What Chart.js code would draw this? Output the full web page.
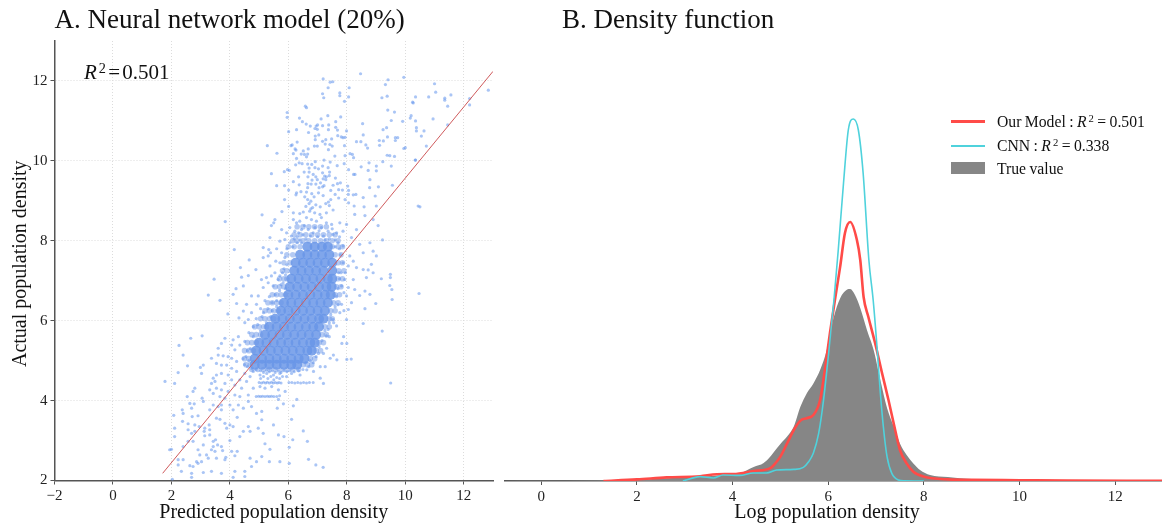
<!DOCTYPE html>
<html><head><meta charset="utf-8">
<script src="https://cdn.jsdelivr.net/npm/chart.js@4"></script>
<style>
html,body{margin:0;padding:0;background:#fff;width:1162px;height:526px;overflow:hidden;font-family:"Liberation Serif",serif;color:#111}
canvas{position:absolute;top:0}
#r2a{position:absolute;left:84px;top:59px;font-size:21px;line-height:26px;white-space:nowrap;word-spacing:-3px}
sup{font-size:.68em;line-height:0;position:relative;vertical-align:baseline;margin-left:2px;top:-.45em}
#legend{position:absolute;left:951px;top:110px;font-size:15.7px;line-height:23.5px;word-spacing:-.5px}
.row{position:relative;height:23.5px;padding-left:46px;white-space:nowrap}
.sw{position:absolute;left:0}
</style></head><body>
<canvas id="a" width="500" height="526" style="left:0"></canvas>
<canvas id="b" width="658" height="526" style="left:504px"></canvas>
<div id="r2a"><i>R</i><sup>2</sup> = 0.501</div>
<div id="legend">
<div class="row"><span class="sw" style="top:10px;width:34px;height:3px;background:#ff4b48"></span>Our Model : <i>R</i><sup>2</sup> = 0.501</div>
<div class="row"><span class="sw" style="top:11px;width:34px;height:2px;background:#4fd2dc"></span>CNN : <i>R</i><sup>2</sup> = 0.338</div>
<div class="row"><span class="sw" style="top:5px;width:34px;height:12px;background:#868686"></span>True value</div>
</div>
<script>
const panelATitle="A. Neural network model (20%)";
const panelBTitle="B. Density function";
const fitLine=[[1.7,2.18],[13,12.24]];
const corePoints=[[6.65,7.85],[6.9,7.85],[7.15,7.85],[7.35,7.85],[6.4,7.65],[6.65,7.65],[6.9,7.65],[7.15,7.65],[7.4,7.65],[6.25,7.45],[6.5,7.45],[6.75,7.45],[7,7.45],[7.25,7.45],[7.5,7.45],[6.2,7.25],[6.45,7.25],[6.7,7.25],[6.95,7.25],[7.2,7.25],[7.5,7.25],[6.1,7.05],[6.35,7.05],[6.6,7.05],[6.85,7.05],[7.1,7.05],[7.35,7.05],[7.5,7.05],[6.05,6.85],[6.3,6.85],[6.55,6.85],[6.8,6.85],[7.05,6.85],[7.3,6.85],[7.48,6.85],[6,6.65],[6.25,6.65],[6.5,6.65],[6.75,6.65],[7,6.65],[7.25,6.65],[7.45,6.65],[5.85,6.45],[6.1,6.45],[6.35,6.45],[6.6,6.45],[6.85,6.45],[7.1,6.45],[7.35,6.45],[5.75,6.25],[6,6.25],[6.25,6.25],[6.5,6.25],[6.75,6.25],[7,6.25],[7.25,6.25],[5.55,6.05],[5.8,6.05],[6.05,6.05],[6.3,6.05],[6.55,6.05],[6.8,6.05],[7.05,6.05],[7.2,6.05],[5.35,5.85],[5.6,5.85],[5.85,5.85],[6.1,5.85],[6.35,5.85],[6.6,5.85],[6.85,5.85],[7.05,5.85],[5.2,5.65],[5.45,5.65],[5.7,5.65],[5.95,5.65],[6.2,5.65],[6.45,5.65],[6.7,5.65],[6.95,5.65],[5,5.45],[5.25,5.45],[5.5,5.45],[5.75,5.45],[6,5.45],[6.25,5.45],[6.5,5.45],[6.75,5.45],[6.9,5.45],[4.9,5.25],[5.15,5.25],[5.4,5.25],[5.65,5.25],[5.9,5.25],[6.15,5.25],[6.4,5.25],[6.65,5.25],[6.8,5.25],[4.85,5.05],[5.1,5.05],[5.35,5.05],[5.6,5.05],[5.85,5.05],[6.1,5.05],[6.35,5.05],[6.55,5.05],[4.85,4.9],[5.1,4.9],[5.35,4.9],[5.6,4.9],[5.85,4.9],[6.1,4.9],[6.3,4.9]];
const edgePoints=[[6.3,8.35],[6.5,8.35],[6.7,8.35],[6.9,8.35],[7.1,8.35],[7.3,8.35],[6.2,8.15],[6.4,8.15],[6.6,8.15],[6.8,8.15],[7,8.15],[7.2,8.15],[7.4,8.15],[7.6,8.15],[6.15,8],[6.3,8],[6.5,8],[6.7,8],[6.9,8],[7.1,8],[7.3,8],[7.5,8],[7.7,8],[6,7.85],[6.2,7.85],[6.4,7.85],[7.5,7.85],[7.7,7.85],[7.85,7.85],[5.95,7.65],[6.15,7.65],[7.6,7.65],[7.8,7.65],[5.85,7.45],[6.05,7.45],[7.7,7.45],[7.85,7.45],[5.8,7.25],[5.95,7.25],[7.72,7.25],[7.9,7.25],[5.7,7.05],[5.85,7.05],[5.95,7.05],[7.7,7.05],[7.85,7.05],[5.55,6.85],[5.7,6.85],[5.85,6.85],[7.65,6.85],[7.8,6.85],[5.45,6.65],[5.6,6.65],[5.75,6.65],[5.9,6.65],[7.6,6.65],[7.75,6.65],[5.3,6.45],[5.45,6.45],[5.6,6.45],[5.75,6.45],[7.55,6.45],[7.7,6.45],[5.2,6.25],[5.35,6.25],[5.5,6.25],[5.65,6.25],[7.45,6.25],[7.6,6.25],[5.05,6.05],[5.2,6.05],[5.35,6.05],[5.5,6.05],[7.4,6.05],[7.5,6.05],[4.85,5.85],[5,5.85],[5.15,5.85],[5.25,5.85],[7.25,5.85],[7.4,5.85],[4.75,5.65],[4.9,5.65],[5.05,5.65],[7.15,5.65],[7.3,5.65],[4.6,5.45],[4.75,5.45],[4.9,5.45],[7.05,5.45],[7.2,5.45],[4.5,5.25],[4.65,5.25],[4.8,5.25],[6.95,5.25],[7.1,5.25],[4.5,5.05],[4.65,5.05],[6.75,5.05],[6.9,5.05],[4.55,4.9],[4.7,4.9],[6.5,4.9],[6.65,4.9],[6.8,4.9],[4.75,4.78],[4.95,4.78],[5.15,4.78],[5.35,4.78],[5.55,4.78],[5.75,4.78],[5.95,4.78],[6.15,4.78],[6.35,4.78]];
const upperPoints=[[7.19,12.05],[7.43,11.97],[7.52,11.98],[7.36,11.83],[8.47,12.18],[9.41,12.03],[9.95,12.09],[9.32,11.91],[8.08,11.83],[7.17,11.68],[7.76,11.7],[7.76,11.63],[8.06,11.6],[7.21,11.58],[7.92,11.49],[9.2,11.58],[9.38,11.62],[10.25,11.47],[6.58,11.37],[6.62,11.33],[5.96,11.21],[5.96,11.09],[9.4,11.27],[9.63,11.22],[7.35,11.13],[7.79,11.1],[6.38,11.07],[7.12,11.05],[10.2,11.13],[10.17,11.07],[9.52,11.01],[7.62,10.98],[9.91,10.99],[6.48,10.98],[6.61,10.92],[6.75,10.87],[7,10.9],[6.95,10.87],[7.17,10.88],[7.38,10.9],[8.54,10.93],[6.91,10.81],[6.99,10.79],[7.37,10.78],[7.62,10.84],[7.68,10.77],[6.28,10.78],[6.01,10.73],[6.69,10.71],[9.24,10.78],[9.36,10.83],[10.38,10.83],[7.99,10.75],[8.56,10.65],[6.92,10.62],[7.04,10.65],[7.69,10.63],[7.81,10.6],[7.87,10.58],[7.94,10.59],[7.48,10.55],[7.28,10.53],[7.17,10.49],[6.92,10.53],[6.3,10.47],[8.33,10.48],[8.48,10.48],[9.11,10.51],[9.25,10.5],[9.39,10.6],[9.66,10.58],[9.74,10.58],[9.66,10.51],[8.65,10.4],[8.71,10.32],[9.12,10.39],[6.13,10.4],[6.09,10.38],[6.89,10.37],[6.99,10.37],[7.26,10.42],[7.42,10.41],[7.5,10.37],[7.92,10.38],[5.28,10.38],[6.23,10.3],[6.26,10.27],[6.68,10.3],[7.37,10.28],[6.51,10.25],[9.95,10.31],[5.61,10.19],[6.17,10.18],[6.44,10.17],[6.55,10.16],[6.66,10.17],[6.62,10.1],[6.28,10.06],[7.59,10.12],[7.94,10.13],[8.11,10.18],[8.19,10.16],[8.23,10.08],[9.38,10.14],[9.47,10.13],[9.63,10.11],[7.22,10.02],[6.92,9.98],[6.37,9.95],[6.25,9.9],[6.47,9.93],[6.66,9.92],[6.8,9.91],[7.17,9.87],[7.43,9.97],[7.67,9.88],[7.91,9.93],[8.76,9.95],[9.01,9.87],[9.23,9.98],[10.34,10.02],[9.52,9.87],[8.49,9.85],[6.71,9.82],[6.91,9.83],[7.03,9.8],[7.36,9.83],[5.97,9.78],[6.03,9.76],[5.86,9.73],[5.42,9.68],[6.71,9.72],[6.54,9.72],[6.85,9.66],[7.17,9.7],[7.41,9.72],[8.06,9.78],[8.73,9.76],[9.01,9.75],[8.23,9.66],[8.28,9.66],[6.35,9.6],[6.67,9.6],[6.94,9.6],[7.24,9.62],[7.3,9.6],[7.4,9.63],[7.19,9.55],[7.28,9.53],[7.61,9.57],[6.81,9.52],[6.99,9.53],[7.1,9.45],[6.17,9.48],[7.68,9.43],[7.78,9.45],[8.79,9.53],[5.6,9.38],[5.87,9.38],[6.37,9.4],[6.67,9.43],[6.78,9.42],[6.94,9.42],[7.22,9.38],[7.53,9.39],[6.01,9.27],[6.66,9.33],[7.05,9.33],[7.17,9.35],[8.03,9.37],[8.78,9.33],[9.08,9.35],[9.56,9.39],[6.28,9.2],[6.26,9.15],[6.43,9.23],[6.62,9.22],[6.8,9.18],[7.03,9.2],[7.45,9.26],[7.72,9.28],[7.85,9.27],[8.06,9.26],[8.05,9.16],[8.22,9.15],[8.31,9.16],[6.56,9.1],[6.88,9.1],[7.19,9.13],[7.6,9.16],[8.97,9.12],[8.56,9.08],[5.87,9.03],[6.66,9.03],[6.77,8.99],[7.45,9.03],[7.72,9.07],[7.94,9.03],[7.37,8.97],[7.28,8.93],[8.06,8.95],[6.6,8.86],[6.71,8.93],[6.94,8.9],[6.83,8.83],[7.09,8.85],[6.01,8.86],[7.4,8.88],[8.25,8.87],[8.59,8.85],[9.01,8.87],[10.44,8.87],[6.77,8.8],[11,11.93],[11.04,11.72],[10.8,11.6],[10.35,11.6],[10.27,11.45],[11.35,11.57],[11.35,11.52],[11.56,11.65],[11.45,11.37],[12.2,11.56],[12.2,11.4],[12.84,11.77],[10.95,11.05],[11.45,10.9],[10.35,11],[10.38,10.75],[10.64,10.75],[10.55,10.62],[10.72,10.37],[10.35,10.02],[10,10.33],[10.5,8.85]];
const middlePoints=[[5.1,8.65],[5.78,8.73],[5.42,8.38],[5.54,8.53],[5.5,8.45],[6.17,8.7],[6.39,8.68],[6.51,8.72],[6.73,8.74],[6.9,8.7],[7.08,8.66],[7.3,8.7],[7.53,8.77],[7.76,8.45],[7.99,8.41],[8.27,8.66],[8.62,8.63],[8.9,8.53],[9.07,8.38],[8.33,8.28],[9.22,8.02],[6.17,8.53],[6.28,8.45],[6.39,8.49],[6.62,8.58],[6.79,8.53],[6.96,8.49],[7.13,8.58],[7.3,8.45],[7.48,8.41],[7.65,8.2],[7.87,8.24],[6.05,8.33],[5.94,8.2],[5.77,8.28],[6.22,8.24],[6.45,8.28],[6.68,8.28],[6.91,8.33],[7.13,8.33],[7.36,8.24],[7.53,8.16],[5.37,8.08],[5.71,7.99],[5.88,8.03],[6.1,8.12],[6.3,8.1],[6.5,8.15],[6.6,8.05],[6.75,8.12],[6.85,8.2],[7,8.1],[7.05,8.25],[7.2,8.12],[7.25,8.02],[7.4,8.05],[7.5,8.3],[6.55,8.38],[6.35,8.2],[6.2,8.05],[6.4,8.02],[7.6,8.02],[7.7,7.95],[7.75,8.1],[6.3,7.95],[6.45,7.95],[6.15,7.85],[6.05,7.95],[5.95,7.8],[3.84,8.48],[4.15,7.78],[4.66,7.52],[4.36,7.33],[3.46,7.04],[3.26,6.64],[3.66,6.51],[4.21,6.8],[4.46,6.87],[4.11,6.66],[4.23,6.43],[3.93,6.17],[4.31,6.07],[4.46,6.24],[4.57,6.41],[4.74,6.62],[4.4,7.09],[4.63,7.13],[4.89,7.28],[5.08,7.03],[5.25,7.08],[5.42,7.12],[5.14,7.83],[5.33,7.78],[5.39,7.7],[5.6,7.8],[5.77,7.7],[5.57,7.49],[5.37,7.37],[5.71,7.45],[5.88,7.58],[5.14,7.58],[5.31,7.62],[5.54,7.2],[5.71,7.12],[4.97,6.62],[5.14,6.83],[5.31,6.95],[5.48,6.87],[5.65,7.03],[5.82,6.95],[4.91,6.41],[4.74,6.2],[4.63,6.03],[4.51,5.95],[4.9,6.05],[5.1,6.1],[5.05,6.3],[5.2,6.5],[5.35,6.6],[5.45,6.45],[5.55,6.65],[5.7,6.75],[5.6,6.5],[5.45,6.25],[5.3,6.3],[5.15,6.2],[4.8,5.85],[4.95,5.9],[5.05,5.75],[4.8,5.6],[4.65,5.7],[5.85,7.3],[5.95,7.4],[5.8,7.2],[5.75,6.9],[5.9,7.15],[5.6,6.35],[5.4,6.1],[5.25,5.95],[5.9,6.8],[7.87,7.45],[8.05,7.37],[8.22,7.49],[8.33,7.33],[8.56,7.28],[8.73,7.27],[8.9,7.2],[9.18,7.05],[9.49,7.16],[9.49,7.08],[9.47,6.88],[9.54,6.78],[9.55,6.53],[10.47,6.68],[8.99,6.43],[8.62,6.3],[8.56,5.93],[9.21,5.74],[8.67,7.08],[8.22,7.03],[8.05,6.83],[7.93,7.03],[7.82,6.87],[8.27,6.78],[7.99,6.62],[8.16,6.45],[7.82,6.41],[8.44,6.63],[8.79,6.66],[8.62,6.74],[8.05,6.28],[7.76,6.2],[7.53,6.03],[7.99,6.03],[7.36,5.78],[7.65,5.87],[7.3,5.62],[8.9,7.74],[9.01,7.62],[8.84,7.41],[8.56,7.7],[8.44,7.91],[8.79,7.95],[8.16,8.08],[7.87,7.87],[8.1,7.62],[7.78,7.65],[7.72,7.2],[7.75,7.05],[7.7,6.8],[7.65,6.6],[7.6,6.35],[7.45,6.15],[7.4,5.95],[7.25,5.75],[7.15,5.5],[7.05,5.35],[7.8,7.2],[7.95,7.2],[7.9,6.7],[7.7,6.4],[7.9,6.25],[7.55,5.95],[7.4,5.6],[7.6,7.85],[7.75,7.8]];
const lowerPoints=[[2.26,5.38],[2.4,5.14],[2.66,5.56],[3.05,5.62],[1.78,4.48],[2.11,4.43],[2.23,4.7],[2.55,4.87],[2.99,4.83],[3.09,4.89],[3.03,4.68],[2.8,4.31],[2.74,4.23],[2.54,4.1],[3.05,4.06],[3.09,3.98],[2.63,3.93],[2.78,3.92],[2.37,3.77],[2.08,3.63],[2.69,3.81],[2.4,3.68],[2.71,3.6],[2.91,3.62],[2.11,3.31],[2.38,3.48],[2.57,3.42],[2.8,3.39],[2.95,3.35],[2.11,3.1],[2.57,3.27],[2.69,3.18],[2.8,3.23],[3.14,3.31],[3.29,3.39],[3.31,3.27],[3.31,3.14],[3.14,3.12],[3.12,3.23],[2.57,2.98],[2.74,2.98],[2.4,2.85],[1.94,2.77],[2,2.78],[2.4,2.52],[2.23,2.52],[2.23,2.39],[2.34,2.23],[2.63,2.37],[2.74,2.35],[2.69,2.18],[2.03,2.03],[2.69,2.08],[2.86,2.47],[2.91,2.43],[3.03,2.47],[2.97,2.64],[2.91,2.77],[3.09,2.89],[3.2,2.64],[3.26,2.56],[3.37,2.77],[3.43,2.98],[3.51,3.02],[3.58,2.89],[3.71,2.85],[3.43,2.85],[3.49,2.73],[3.75,2.75],[3.54,2.56],[3.86,2.58],[4.06,2.73],[4.25,2.73],[4,3],[4.17,2.62],[3.83,2.52],[3.37,2.23],[3.09,2.2],[3.71,2.18],[4.17,2.23],[4.11,2.08],[4.51,2.23],[4.51,2.1],[4.69,2.56],[4.74,2.35],[4.91,2.47],[5.09,2.6],[5.37,2.78],[5.2,2.92],[5.66,3.14],[5.85,3.1],[6.15,3.02],[6.65,2.98],[6.51,3.24],[6.11,3.53],[5.35,2.47],[5.71,2.47],[6.03,2.43],[6.03,2.83],[6.69,2.53],[6.94,2.39],[7.19,2.33],[5.49,3.39],[5.14,3.18],[5.09,3.52],[4.97,3.31],[4.69,3.23],[4.63,3.35],[4.46,3.23],[4.34,3.1],[4.11,3.35],[4.25,3.58],[4,3.39],[3.89,3.31],[3.83,3.43],[3.66,3.53],[3.54,3.56],[3.71,3.77],[3.31,3.77],[3.43,3.89],[3.6,3.85],[3.71,3.89],[4,3.89],[4.11,3.77],[4.29,3.89],[4.46,3.81],[4.63,3.98],[4.74,3.85],[4.91,3.68],[5.09,3.73],[5.62,3.81],[5.83,3.92],[5.66,4.03],[6.29,4.03],[6.17,3.87],[3.37,4.43],[3.49,4.48],[3.43,4.56],[3.54,4.64],[3.71,4.68],[3.89,4.89],[3.71,4.89],[3.54,4.93],[3.37,5.06],[3.6,5.14],[3.77,5.12],[3.94,5.1],[3.6,5.31],[3.71,5.43],[4.06,5.39],[3.83,5.56],[4.11,5.52],[4.29,5.6],[4.34,5.39],[4.51,5.48],[4.17,5.27],[4.06,5.06],[4.23,4.98],[4.06,4.81],[4.23,4.73],[3.94,4.64],[4.06,4.52],[3.83,4.43],[3.94,4.23],[3.71,4.27],[3.54,4.31],[3.31,4.27],[3.43,4.18],[3.66,4.1],[3.83,4.06],[4.17,4.39],[4.34,4.52],[4.4,4.31],[4.57,4.48],[4.51,4.68],[4.69,4.6],[4.8,4.73],[4.17,4.14],[4.34,4.1],[4.63,4.14],[4.8,4.31],[5.03,4.35],[5.2,4.31],[5.43,4.35],[5.66,4.27],[5.89,4.23],[5.03,4.64],[5.26,4.68],[5.49,4.64],[5.71,4.68],[5.94,4.6],[6.11,4.68],[6.4,4.64],[6.63,4.77],[6.86,4.73],[7.09,4.56],[7.2,4.43],[7.26,4.85],[7.43,5.06],[7.66,5.02],[8,5.03],[8.15,5.04],[7.83,5.43],[8,5.43],[7.89,5.6],[7.54,5.14],[7.2,5.18],[7.09,4.85],[7.03,5.18],[7.31,5.31],[9.5,4.44],[4.55,5.1],[4.65,5],[4.5,4.9],[4.6,4.85],[4.45,5.05],[4.7,5.3],[4.6,5.25],[6.6,4.95],[6.75,5],[6.85,4.95],[6.95,5.1],[6.7,4.85]];
const bandPoints=[[5,4.45],[5.08,4.44],[5.15,4.46],[5.22,4.44],[5.28,4.46],[5.35,4.44],[5.42,4.46],[5.48,4.44],[5.55,4.45],[5.62,4.44],[5.68,4.45],[5.75,4.44],[6.02,4.45],[6.12,4.45],[6.22,4.44],[6.32,4.45],[6.42,4.44],[6.52,4.45],[6.62,4.44],[6.72,4.45],[6.85,4.45],[4.9,4.1],[4.98,4.11],[5.05,4.1],[5.12,4.11],[5.2,4.1],[5.28,4.11],[5.35,4.1],[5.42,4.11],[5.5,4.1],[5.6,4.1],[5.7,4.12],[5.05,4.75],[5.15,4.7],[5.25,4.76],[5.35,4.72],[5.45,4.75],[5.55,4.7],[5.65,4.74],[5.75,4.7],[5.85,4.75],[5.95,4.72],[6.05,4.75],[6.2,4.72],[6.35,4.75],[5.15,4.6],[5.3,4.55],[5.4,4.6],[5.5,4.52],[5.6,4.58],[5.7,4.55],[5.8,4.6],[5.05,4.55],[6.5,4.78],[4.75,4.8],[4.9,4.78]];
const modelX=[1.3,2,2.62,3.32,3.67,4.02,4.44,4.8,4.9,5,5.14,5.28,5.42,5.55,5.69,5.83,5.94,6.04,6.15,6.25,6.35,6.46,6.6,6.67,6.74,6.84,6.98,7.12,7.26,7.4,7.5,7.64,7.78,7.99,8.5,9,10,11,13];
const modelY=[0,0.004,0.009,0.012,0.017,0.0175,0.025,0.033,0.045,0.061,0.094,0.1275,0.151,0.157,0.165,0.2025,0.286,0.373,0.46,0.536,0.62,0.6475,0.6025,0.5525,0.46,0.41,0.345,0.2725,0.2025,0.1275,0.0775,0.044,0.0233,0.011,0.004,0.003,0.002,0.001,0.0005];
const cnnX=[2.96,3.32,3.6,3.8,4.15,4.43,4.71,4.92,5.28,5.48,5.59,5.69,5.8,5.9,6,6.12,6.21,6.32,6.42,6.525,6.63,6.73,6.85,6.94,7.02,7.09,7.16,7.23,7.33,7.47,7.6,8];
const cnnY=[0,0.011,0.0075,0.015,0.014,0.02,0.02,0.0275,0.029,0.034,0.048,0.07,0.119,0.2,0.31,0.4525,0.5775,0.745,0.8775,0.905,0.8775,0.77,0.5525,0.4525,0.336,0.22,0.1275,0.061,0.019,0.0025,0.0005,0];
const trueX=[-0.78,0,1,2,2.5,3,3.5,4,4.16,4.3,4.44,4.65,4.8,4.93,5,5.14,5.28,5.42,5.55,5.69,5.83,5.97,6.11,6.25,6.39,6.46,6.56,6.67,6.81,6.95,7.09,7.23,7.37,7.5,7.64,7.78,7.92,8.13,8.5,9,10,10.5,11,12.98];
const trueY=[0,0.0005,0.001,0.003,0.006,0.009,0.012,0.017,0.019,0.027,0.035,0.045,0.0625,0.0825,0.0925,0.111,0.136,0.186,0.219,0.244,0.2775,0.3275,0.407,0.457,0.478,0.48,0.465,0.4325,0.3775,0.3275,0.2525,0.1825,0.136,0.094,0.065,0.044,0.0275,0.015,0.01,0.005,0.003,0.003,0.001,0];
const xTickStep=2;

const pts=a=>a.map(p=>({x:p[0],y:p[1]}));
const zip=(xs,ys)=>xs.map((x,i)=>({x,y:ys[i]}));
const serif='"Liberation Serif", serif';
Chart.defaults.font.family=serif;
Chart.defaults.color='#222';
const axisDark='#555';
const minusFmt=v=>String(v).replace('-','\u2212');
const dotColor='rgba(100,149,237,0.55)';
function dots(data,r){return {data:pts(data),pointRadius:r,pointBackgroundColor:dotColor,pointBorderWidth:0,showLine:false};}
const titleFont={size:27,weight:'normal',family:serif,lineHeight:1.2};
const titlePad={top:5,bottom:3.6};

const nudgeA={id:'nudgeA',
 beforeDraw(c){const s=c.scales.y;if(!s.__n){s.__n=1;const o=s.drawTitle;s.drawTitle=function(){c.ctx.save();c.ctx.translate(0,3);o.call(s);c.ctx.restore();};}}
};
new Chart(document.getElementById('a'),{
 type:'scatter',
 data:{datasets:[
  {data:pts(fitLine),showLine:true,borderColor:'#cf5a5c',borderWidth:1,pointRadius:0},
  dots(bandPoints,1.5),dots(lowerPoints,1.6),dots(middlePoints,1.6),dots(upperPoints,1.6),
  {data:pts(edgePoints),pointRadius:2.8,pointBackgroundColor:'rgba(106,150,232,0.5)',pointBorderWidth:0,showLine:false},
  {data:pts(corePoints),pointRadius:5,pointBackgroundColor:'rgba(106,150,232,0.85)',pointBorderWidth:0,showLine:false}
 ]},
 plugins:[nudgeA],
 options:{responsive:false,animation:false,maintainAspectRatio:false,
  layout:{padding:{left:0,right:7,top:0,bottom:0}},
  plugins:{legend:{display:false},tooltip:{enabled:false},
   title:{display:true,text:panelATitle,align:'start',fullSize:false,color:'#111',font:titleFont,padding:titlePad}},
  scales:{
   x:{type:'linear',min:-2,max:13,afterFit:s=>{s.height=45.5;},
     border:{color:axisDark,width:1.5,dash:[1,2]},
     grid:{color:'#dcdcdc',lineWidth:1,tickColor:axisDark,tickLength:4},
     ticks:{stepSize:xTickStep,includeBounds:false,maxRotation:0,color:'#222',font:{size:15},padding:3,callback:minusFmt},
     title:{display:true,text:'Predicted population density',color:'#111',font:{size:20},padding:{top:0,bottom:1}}},
   y:{type:'linear',min:2,max:13,afterFit:s=>{s.width=54.5;},
     border:{color:axisDark,width:1.5,dash:[1,2]},
     grid:{color:'#dcdcdc',lineWidth:1,tickColor:axisDark,tickLength:4},
     ticks:{stepSize:xTickStep,includeBounds:false,color:'#222',font:{size:15},padding:3,callback:minusFmt},
     title:{display:true,text:'Actual population density',color:'#111',font:{size:20},padding:{top:9,bottom:0}}}
  }
 }
});

const nudge={id:'nudge',
 afterLayout(c){c.titleBlock.left=58;},
 beforeDraw(c){const s=c.scales.x;if(!s.__n){s.__n=1;const o=s.drawTitle;s.drawTitle=function(){c.ctx.save();c.ctx.translate(-6,0);o.call(s);c.ctx.restore();};}}
};
new Chart(document.getElementById('b'),{
 type:'line',
 data:{datasets:[
  {label:'CNN',data:zip(cnnX,cnnY),borderColor:'#4fd2dc',borderWidth:1.6,pointRadius:0,cubicInterpolationMode:'monotone',fill:false},
  {label:'Our Model',data:zip(modelX,modelY),borderColor:'#ff4b48',borderWidth:2.6,pointRadius:0,cubicInterpolationMode:'monotone',fill:false},
  {label:'True value',data:zip(trueX,trueY),borderColor:'#868686',borderWidth:0,backgroundColor:'#868686',pointRadius:0,cubicInterpolationMode:'monotone',fill:'origin'}
 ]},
 plugins:[nudge],
 options:{responsive:false,animation:false,maintainAspectRatio:false,
  plugins:{legend:{display:false},tooltip:{enabled:false},
   title:{display:true,text:panelBTitle,align:'start',fullSize:false,color:'#111',font:titleFont,padding:titlePad}},
  scales:{
   x:{type:'linear',min:-0.78,max:12.98,afterFit:s=>{s.height=45;},
     border:{color:axisDark,width:1.5},
     grid:{drawOnChartArea:false,tickColor:axisDark,tickLength:4},
     ticks:{stepSize:xTickStep,includeBounds:false,maxRotation:0,color:'#222',font:{size:15},padding:3,callback:minusFmt},
     title:{display:true,text:'Log population density',color:'#111',font:{size:20},padding:{top:0,bottom:1}}},
   y:{type:'linear',min:0,max:1.1,display:false}
  }
 }
});
</script>
</body></html>
